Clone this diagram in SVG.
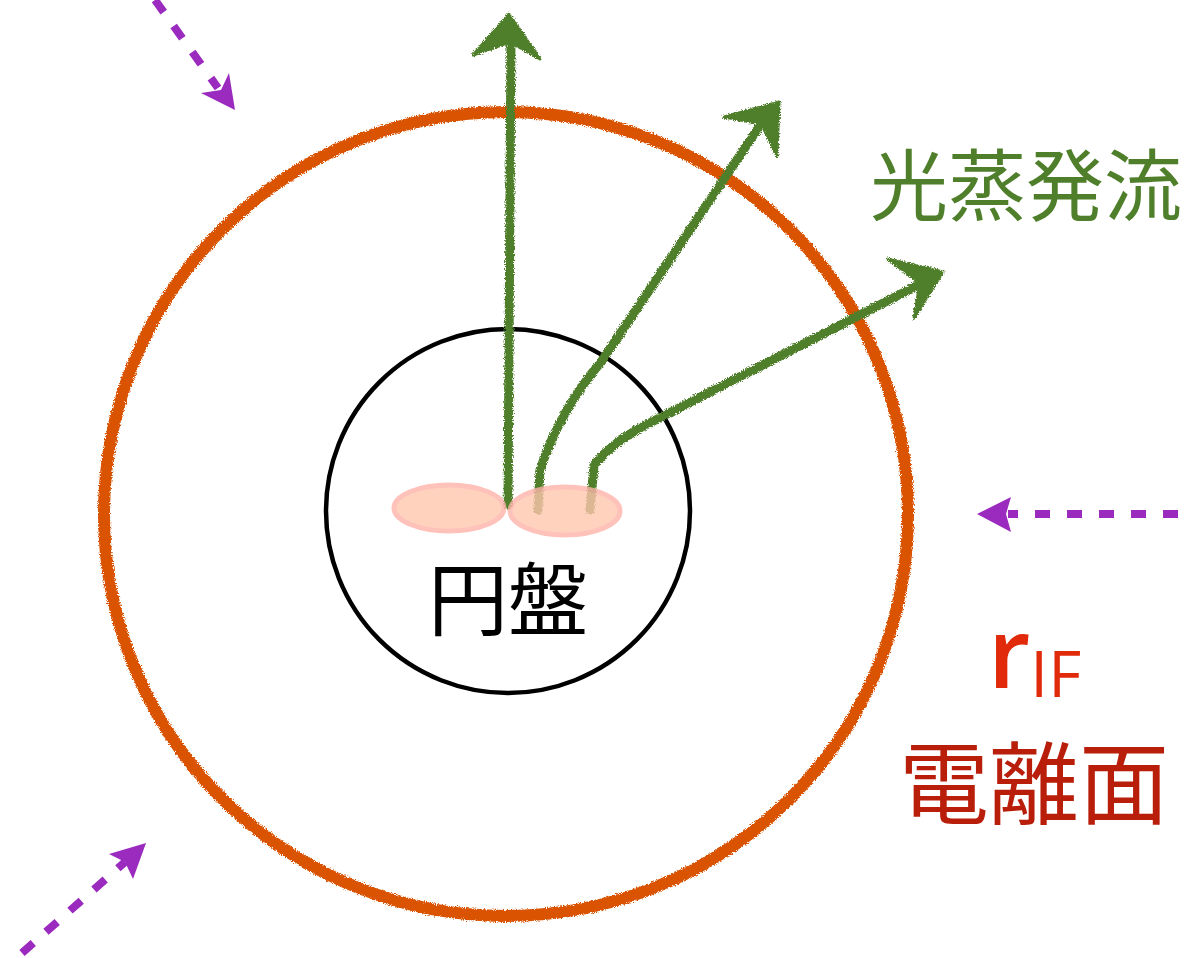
<svg xmlns="http://www.w3.org/2000/svg" width="1193" height="958" viewBox="0 0 1193 958">
  <defs>
    <!-- crayon-like ragged edges -->
    <filter id="rough" x="-5%" y="-5%" width="110%" height="110%">
      <feTurbulence type="fractalNoise" baseFrequency="0.9" numOctaves="2" seed="3" result="n"/>
      <feDisplacementMap in="SourceGraphic" in2="n" scale="5" xChannelSelector="R" yChannelSelector="G"/>
    </filter>
    <style>
      .ionf { fill: none; stroke: #D95200; stroke-width: 12; }
      .disk { fill: none; stroke: #000; stroke-width: 4.5; }
      .flow { fill: none; stroke: #4F7F2A; stroke-width: 9; stroke-linecap: round; stroke-linejoin: round; }
      .flowhead { fill: #4F7F2A; stroke: #4F7F2A; stroke-width: 3; stroke-linejoin: round; }
      .inflow { fill: none; stroke: #9A2BBE; stroke-width: 8; stroke-dasharray: 15 17; }
      .inhead { fill: #9A2BBE; }
      .spot { fill: #FFC7AE; stroke: #FFB4AA; stroke-width: 5; opacity: 0.8; }
      .cjk { font-family: "Noto Sans CJK JP", "Noto Sans CJK SC", sans-serif; }
    </style>
  </defs>

  <rect width="1193" height="958" fill="#fff"/>

  <!-- ionization front -->
  <g id="ionization-front" filter="url(#rough)">
    <circle class="ionf" cx="506" cy="514" r="402"/>
  </g>

  <!-- disk -->
  <g id="disk">
    <circle class="disk" cx="508" cy="511" r="182"/>
    <text class="cjk" x="508" y="629" font-size="80" text-anchor="middle" fill="#000">円盤</text>
  </g>

  <!-- photoevaporative flow -->
  <g id="connectors">
    <g id="outflows" filter="url(#rough)">
      <path class="flow" d="M508 505 L511 40"/>
      <polygon class="flowhead" points="509,14 473,55 510,42 540,59"/>
      <path class="flow" d="M538 510 L540 470 Q560 410 601 362 L765 118"/>
      <polygon class="flowhead" points="779,102 724,117 762,124 777,156"/>
      <path class="flow" d="M590 510 L594 465 Q610 445 640 428 L928 280"/>
      <polygon class="flowhead" points="943,272 888,259 920,283 914,318"/>
    </g>
    <g id="inflows">
      <path class="inflow" d="M155 0 L218 88"/>
      <polygon class="inhead" points="235,110 201,93 221,90 229,73"/>
      <path class="inflow" d="M1178 514 L1008 514"/>
      <polygon class="inhead" points="977,514 1011,497 1006,514 1011,532"/>
      <path class="inflow" d="M22 953 L125 862"/>
      <polygon class="inhead" points="146,843 109,854 125,862 133,879"/>
    </g>
  </g>

  <!-- heated surface spots -->
  <g id="spots">
    <ellipse class="spot" cx="449" cy="508" rx="55" ry="23"/>
    <ellipse class="spot" cx="565" cy="511" rx="55" ry="24"/>
  </g>

  <g id="label-flow">
    <text class="cjk" x="870" y="215" font-size="78" fill="#4F7F2A">光蒸発流</text>
  </g>

  <g id="label-front">
    <text x="988" y="688" font-family="'Open Sans', sans-serif" font-size="98" font-weight="600" fill="#E02A0A">r<tspan font-size="64" font-weight="400" dy="9">IF</tspan></text>
    <text class="cjk" x="1034" y="817" font-size="90" text-anchor="middle" fill="#B91E0A">電離面</text>
  </g>
</svg>
